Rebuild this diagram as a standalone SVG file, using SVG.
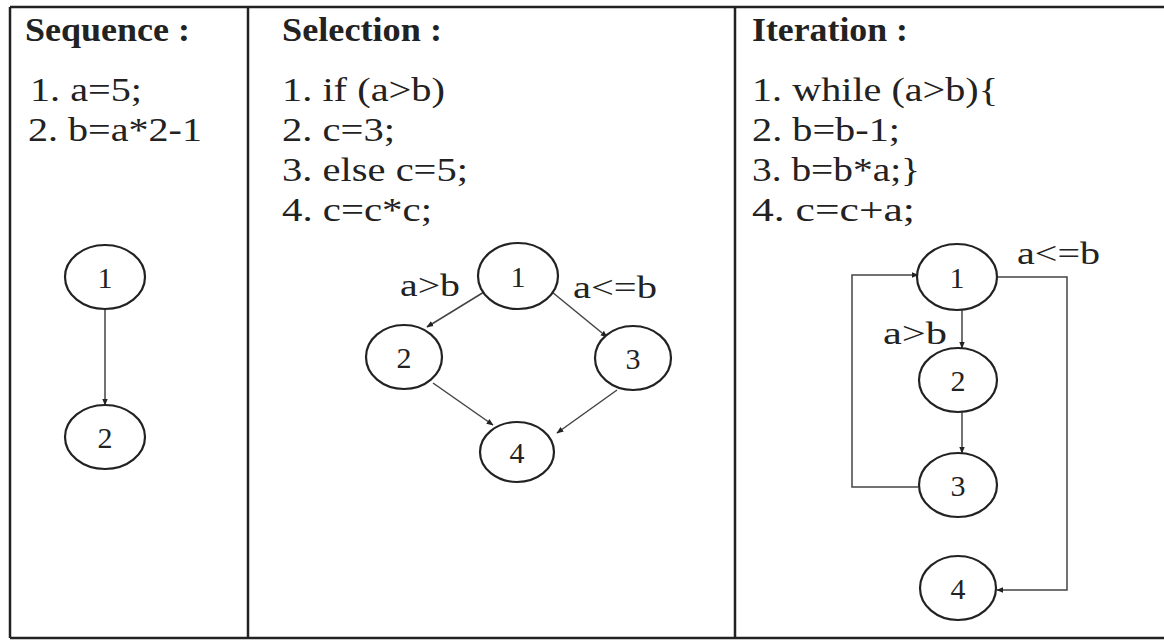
<svg xmlns="http://www.w3.org/2000/svg" width="1164" height="640" viewBox="0 0 1164 640">
<style>
.frame{stroke:#222;stroke-width:2.5;fill:none}
.n ellipse{fill:#fff;stroke:#222;stroke-width:2.2}
.e{stroke:#444;stroke-width:1.5;fill:none;marker-end:url(#ah)}
</style>
<defs>
<marker id="ah" viewBox="0 0 10 10" refX="9" refY="5" markerWidth="7" markerHeight="7" markerUnits="userSpaceOnUse" orient="auto">
<path d="M0,1 L10,5 L0,9 z" fill="#222"/>
</marker>
</defs>
<rect width="1164" height="640" fill="#fff"/>
<g id="frame">
<line class="frame" x1="10" y1="7" x2="1164" y2="7"/>
<line class="frame" x1="10" y1="638" x2="1164" y2="638"/>
<line class="frame" x1="10" y1="7" x2="10" y2="638"/>
<line class="frame" x1="248" y1="7" x2="248" y2="638"/>
<line class="frame" x1="735" y1="7" x2="735" y2="638"/>
</g>
<g id="texts" font-family="'Liberation Serif', 'Times New Roman', serif" font-size="34" fill="#222">
<text font-weight="bold" x="25" y="41" textLength="165" lengthAdjust="spacingAndGlyphs">Sequence :</text>
<text x="30" y="101" textLength="112" lengthAdjust="spacingAndGlyphs">1. a=5;</text>
<text x="28" y="141" textLength="174" lengthAdjust="spacingAndGlyphs">2. b=a*2-1</text>
<text font-weight="bold" x="282" y="41" textLength="160" lengthAdjust="spacingAndGlyphs">Selection :</text>
<text x="282" y="101" textLength="163" lengthAdjust="spacingAndGlyphs">1. if (a&gt;b)</text>
<text x="282" y="141" textLength="113" lengthAdjust="spacingAndGlyphs">2. c=3;</text>
<text x="282" y="181" textLength="186" lengthAdjust="spacingAndGlyphs">3. else c=5;</text>
<text x="282" y="221" textLength="150" lengthAdjust="spacingAndGlyphs">4. c=c*c;</text>
<text font-weight="bold" x="752" y="41" textLength="156" lengthAdjust="spacingAndGlyphs">Iteration :</text>
<text x="752" y="101" textLength="246" lengthAdjust="spacingAndGlyphs">1. while (a&gt;b){</text>
<text x="752" y="141" textLength="148" lengthAdjust="spacingAndGlyphs">2. b=b-1;</text>
<text x="752" y="181" textLength="168" lengthAdjust="spacingAndGlyphs">3. b=b*a;}</text>
<text x="752" y="221" textLength="163" lengthAdjust="spacingAndGlyphs">4. c=c+a;</text>
</g>
<g id="connectors">
<line class="e" x1="105" y1="310" x2="105" y2="405"/>
<line class="e" x1="484" y1="292" x2="427" y2="327"/>
<line class="e" x1="552" y1="292" x2="607" y2="337"/>
<line class="e" x1="433" y1="383" x2="493" y2="425"/>
<line class="e" x1="617" y1="390" x2="557" y2="433"/>
<line class="e" x1="962" y1="310" x2="962" y2="348"/>
<line class="e" x1="962" y1="412" x2="962" y2="453"/>
<polyline class="e" points="918,487 852,487 852,275 918,275"/>
<polyline class="e" points="997,277 1067,277 1067,590 997,590"/>
</g>
<g id="edge-labels" font-family="'Liberation Serif', 'Times New Roman', serif" font-size="32" fill="#222">
<text x="400" y="296" textLength="60" lengthAdjust="spacingAndGlyphs">a&gt;b</text>
<text x="573" y="298" textLength="84" lengthAdjust="spacingAndGlyphs">a&lt;=b</text>
<text x="1017" y="264" textLength="83" lengthAdjust="spacingAndGlyphs">a&lt;=b</text>
<text x="883" y="344" textLength="64" lengthAdjust="spacingAndGlyphs">a&gt;b</text>
</g>
<g id="nodes" font-family="'Liberation Serif', 'Times New Roman', serif" font-size="30" fill="#222" text-anchor="middle">
<g id="seq-1" class="n"><ellipse cx="105" cy="277" rx="40" ry="32"/><text x="105" y="288">1</text></g>
<g id="seq-2" class="n"><ellipse cx="105" cy="437" rx="40" ry="32"/><text x="105" y="448">2</text></g>
<g id="sel-1" class="n"><ellipse cx="518" cy="276" rx="40" ry="33"/><text x="518" y="287">1</text></g>
<g id="sel-2" class="n"><ellipse cx="404" cy="357" rx="38" ry="32"/><text x="404" y="368">2</text></g>
<g id="sel-3" class="n"><ellipse cx="633" cy="358" rx="38" ry="32"/><text x="633" y="369">3</text></g>
<g id="sel-4" class="n"><ellipse cx="517" cy="452" rx="37" ry="30"/><text x="517" y="463">4</text></g>
<g id="it-1" class="n"><ellipse cx="957" cy="277" rx="40" ry="33"/><text x="957" y="288">1</text></g>
<g id="it-2" class="n"><ellipse cx="958" cy="380" rx="39" ry="32"/><text x="958" y="391">2</text></g>
<g id="it-3" class="n"><ellipse cx="958" cy="485" rx="39" ry="32"/><text x="958" y="496">3</text></g>
<g id="it-4" class="n"><ellipse cx="958" cy="588" rx="38" ry="32"/><text x="958" y="599">4</text></g>
</g>
</svg>
